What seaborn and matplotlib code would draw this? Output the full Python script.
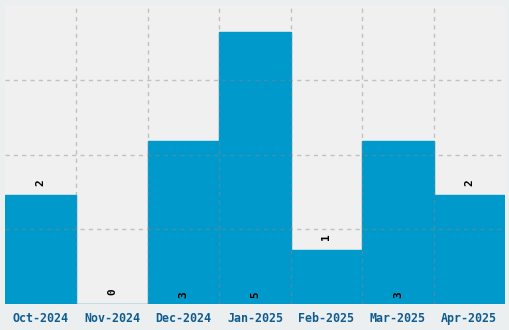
import matplotlib
matplotlib.use("Agg")
import matplotlib.pyplot as plt
import seaborn as sns
import numpy as np
import pandas as pd

months = ["Oct-2024", "Nov-2024", "Dec-2024", "Jan-2025", "Feb-2025", "Mar-2025", "Apr-2025"]
counts = [2, 0, 3, 5, 1, 3, 2]

df = pd.DataFrame({"month": months, "count": counts})

sns.set_style("white")
plt.rcParams["font.family"] = ["DejaVu Sans Mono", "DejaVu Sans"]

fig = plt.figure(figsize=(5.1, 3.3), dpi=100, facecolor="#ECEFF0")
ax = fig.add_axes([5/510, 26/330, 500/510, 299/330])
ax.set_facecolor("#F0F0F0")

sns.barplot(data=df, x="month", y="count", ax=ax, color="#0099CC", saturation=1,
            width=1.0, edgecolor="#0099CC", linewidth=1)

ymax = 5.496
ax.set_ylim(0, ymax)
ax.set_xlim(-0.5, len(months) - 0.5)
ax.set_yticks([ymax * f for f in (0.25, 0.5, 0.75)])
ax.set_yticklabels([])
ax.set_xticks(np.arange(len(months) - 1) + 0.5, minor=True)
ax.tick_params(axis="y", length=0)
ax.tick_params(axis="x", which="both", length=0, pad=6)
ax.set_axisbelow(False)
ax.grid(axis="y", which="major", color="#888888", alpha=0.45, linestyle=(0, (3, 3)), linewidth=1)
ax.grid(axis="x", which="minor", color="#888888", alpha=0.45, linestyle=(0, (3, 3)), linewidth=1)
ax.grid(axis="x", which="major", visible=False)
for lbl in ax.get_xticklabels():
    lbl.set_fontweight("bold")
    lbl.set_fontsize(8.4)
    lbl.set_color("#0E5C92")
ax.set_xlabel("")
ax.set_ylabel("")
for s in ax.spines.values():
    s.set_visible(False)

for i, v in enumerate(counts):
    if v >= 3:
        ax.annotate(str(v), (i, 0), xytext=(0, 7), textcoords="offset points",
                    rotation=90, ha="center", va="center", fontsize=8,
                    fontweight="bold", color="black")
    else:
        ax.annotate(str(v), (i, v), xytext=(0, 9), textcoords="offset points",
                    rotation=90, ha="center", va="center", fontsize=8,
                    fontweight="bold", color="black")

fig.savefig("out.png", dpi=100, facecolor=fig.get_facecolor())
